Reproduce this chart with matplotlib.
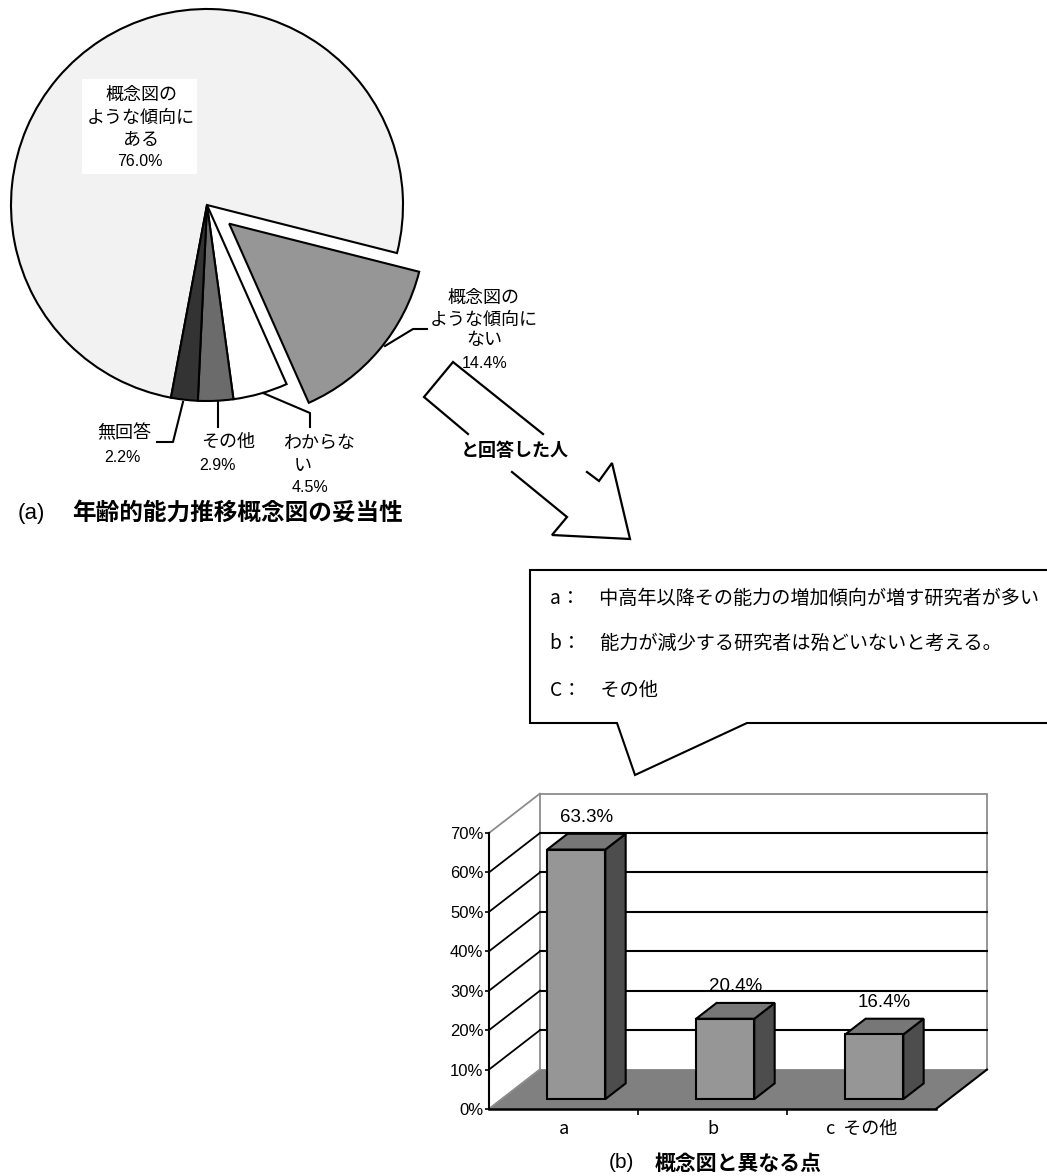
import matplotlib
matplotlib.use('Agg')
import matplotlib.pyplot as plt
from matplotlib.patches import Polygon, Rectangle

plt.rcParams['font.family'] = ['Noto Sans CJK JP', 'DejaVu Sans']
LATIN = ['Liberation Sans', 'DejaVu Sans']

# (a) validity of the age / ability concept diagram
pie_names = [['概念図の', 'ような傾向に', 'ある'],
             ['概念図の', 'ような傾向に', 'ない'],
             ['わからな', 'い'],
             ['その他'],
             ['無回答']]
pie_values = [76.0, 14.4, 4.5, 2.9, 2.2]
pie_colors = ['#f2f2f2', '#969696', '#ffffff', '#6b6b6b', '#333333']

# (b) points that differ from the diagram
bar_cats = ['a', 'b', 'c  その他']
bar_values = [63.3, 20.4, 16.4]
y_ticks = [0, 10, 20, 30, 40, 50, 60, 70]
notes = ['a：\u3000中高年以降その能力の増加傾向が増す研究者が多い',
         'b：\u3000能力が減少する研究者は殆どいないと考える。',
         'C：\u3000その他']

W, H = 1047, 1176
fig = plt.figure(figsize=(W / 100, H / 100), dpi=100)

# ---- pie ----
cx, cy, half = 207, 205, 200
axp = fig.add_axes([(cx - half) / W, (H - cy - half) / H, 2 * half / W, 2 * half / H])
axp.pie(pie_values, colors=pie_colors, startangle=-100.6, counterclock=False,
        explode=[0, 0.148, 0, 0, 0],
        wedgeprops=dict(edgecolor='black', linewidth=1.5))
lim = half / 196
axp.set_xlim(-lim, lim)
axp.set_ylim(-lim, lim)
axp.axis('off')

# ---- pseudo 3d bar chart ----
x0, x1, y0, y1 = 489, 936, 1109, 833
axb = fig.add_axes([x0 / W, (H - y0) / H, (x1 - x0) / W, (y0 - y1) / H])
axb.set_xlim(0, 3)
axb.set_ylim(0, 70)
axb.set_facecolor('none')
DX, DY = 0.342, 10.0    # floor depth in category / percent units
F0, F1 = 0.25, 0.65     # bar front and back inside the depth
BW = 0.39
GRAY = '#8c8c8c'


def at(x, y, f):
    return (x + f * DX, y + f * DY)


n = len(bar_values)
axb.add_patch(Rectangle((DX, DY), n, 70, facecolor='white', edgecolor=GRAY,
                        linewidth=1.3, clip_on=False, zorder=0.5))
for k in y_ticks[1:-1]:
    axb.plot([DX, n + DX], [k + DY, k + DY], color='black', lw=1.5,
             clip_on=False, zorder=0.6)
for k in y_ticks:
    c = GRAY if k in (0, 70) else 'black'
    axb.plot([0, DX], [k, k + DY], color=c, lw=1.3, clip_on=False, zorder=0.6)

axb.add_patch(Polygon([(0, 0), (n, 0), (n + DX, DY), (DX, DY)], closed=True,
                      facecolor='#808080', edgecolor='none', clip_on=False, zorder=0.8))
axb.plot([n, n + DX], [0, DY], color='black', lw=1.5, clip_on=False, zorder=0.9)
axb.plot([0, DX], [0, DY], color=GRAY, lw=1.3, clip_on=False, zorder=0.9)

for i, v in enumerate(bar_values):
    xl, xr = i + 0.5 - BW / 2, i + 0.5 + BW / 2
    front = [at(xl, 0, F0), at(xr, 0, F0), at(xr, v, F0), at(xl, v, F0)]
    top = [at(xl, v, F0), at(xr, v, F0), at(xr, v, F1), at(xl, v, F1)]
    side = [at(xr, 0, F0), at(xr, 0, F1), at(xr, v, F1), at(xr, v, F0)]
    for pts, fc in ((side, '#4d4d4d'), (top, '#777777'), (front, '#969696')):
        axb.add_patch(Polygon(pts, closed=True, facecolor=fc, edgecolor='black',
                              linewidth=1.5, joinstyle='miter', clip_on=False, zorder=2))
    lx, ly = at(i + 0.5, v, (F0 + F1) / 2)
    axb.text(lx, v + F1 * DY + 2.0, f'{v:.1f}%', ha='center', va='bottom',
             fontsize=13.5, family=LATIN)

for s in ('top', 'right'):
    axb.spines[s].set_visible(False)
axb.spines['left'].set_linewidth(1.5)
axb.spines['bottom'].set_linewidth(1.8)
axb.set_yticks(y_ticks)
axb.set_yticklabels([f'{t}%' for t in y_ticks], family=LATIN, fontsize=12)
axb.tick_params(axis='y', length=3, width=1.2, pad=1)
axb.set_xticks([i + 0.5 for i in range(n)])
axb.set_xticklabels(bar_cats, fontsize=13)
axb.set_xticks(range(1, n), minor=True)
axb.tick_params(axis='x', which='major', length=0, pad=8)
axb.tick_params(axis='x', which='minor', length=4, width=1.2)

# ---- overlay in pixel coordinates: labels, arrow, callout ----
ax = fig.add_axes([0, 0, 1, 1])
ax.set_xlim(0, W)
ax.set_ylim(H, 0)
ax.axis('off')

# white box behind the large slice label
ax.add_patch(Rectangle((82, 79), 115, 95, facecolor='white', edgecolor='none'))

label_pos = [(141, [95, 118, 140], (140, 162)),
             (484, [298, 320, 340], (485, 363)),
             ([319, 303], [443, 466], (310, 488)),
             (228, [442], (218, 465)),
             (124, [433], (122, 457))]
for names, v, (lx, lys, (px, py)) in zip(pie_names, pie_values, label_pos):
    xs = lx if isinstance(lx, list) else [lx] * len(lys)
    for t, x, y in zip(names, xs, lys):
        ax.text(x, y, t, ha='center', va='center', fontsize=13)
    ax.text(px, py, f'{v:.1f}%', ha='center', va='center', fontsize=11.5, family=LATIN)

leaders = [[(385, 346), (413, 329), (427, 329)],
           [(263, 393), (310, 413), (310, 427)],
           [(218, 402), (218, 427)],
           [(183, 402), (173, 442), (157, 442)]]
for pts in leaders:
    xs, ys = zip(*pts)
    ax.plot(xs, ys, color='black', lw=1.5)

ax.text(45, 513, '(a)', ha='right', va='center', fontsize=16, family=LATIN)
ax.text(72, 513, '年齢的能力推移概念図の妥当性', ha='left', va='center',
        fontsize=17, fontweight='bold')

# block arrow, broken where its text sits
arrow_parts = [[(468, 434), (424, 397), (453, 362), (543, 434)],
               [(512, 472), (567, 517), (552, 535), (630, 539), (612, 463),
                (599, 481), (587, 472)]]
for pts in arrow_parts:
    xs, ys = zip(*pts)
    ax.plot(xs, ys, color='black', lw=1.6, solid_joinstyle='miter')
ax.text(515, 450, 'と回答した人', ha='center', va='center', fontsize=13,
        fontweight='bold')

# speech bubble with the answer choices
bubble = [(1060, 570), (530, 570), (530, 723), (617, 723), (635, 775),
          (747, 723), (1060, 723)]
ax.add_patch(Polygon(bubble, closed=True, facecolor='white', edgecolor='black',
                     linewidth=1.5, joinstyle='miter'))
for t, y in zip(notes, [598, 643, 690]):
    ax.text(550, y, t, ha='left', va='center', fontsize=13.8)

ax.text(634, 1163, '(b)', ha='right', va='center', fontsize=15, family=LATIN)
ax.text(655, 1163, '概念図と異なる点', ha='left', va='center', fontsize=15,
        fontweight='bold')

fig.savefig('out.png', dpi=100)
